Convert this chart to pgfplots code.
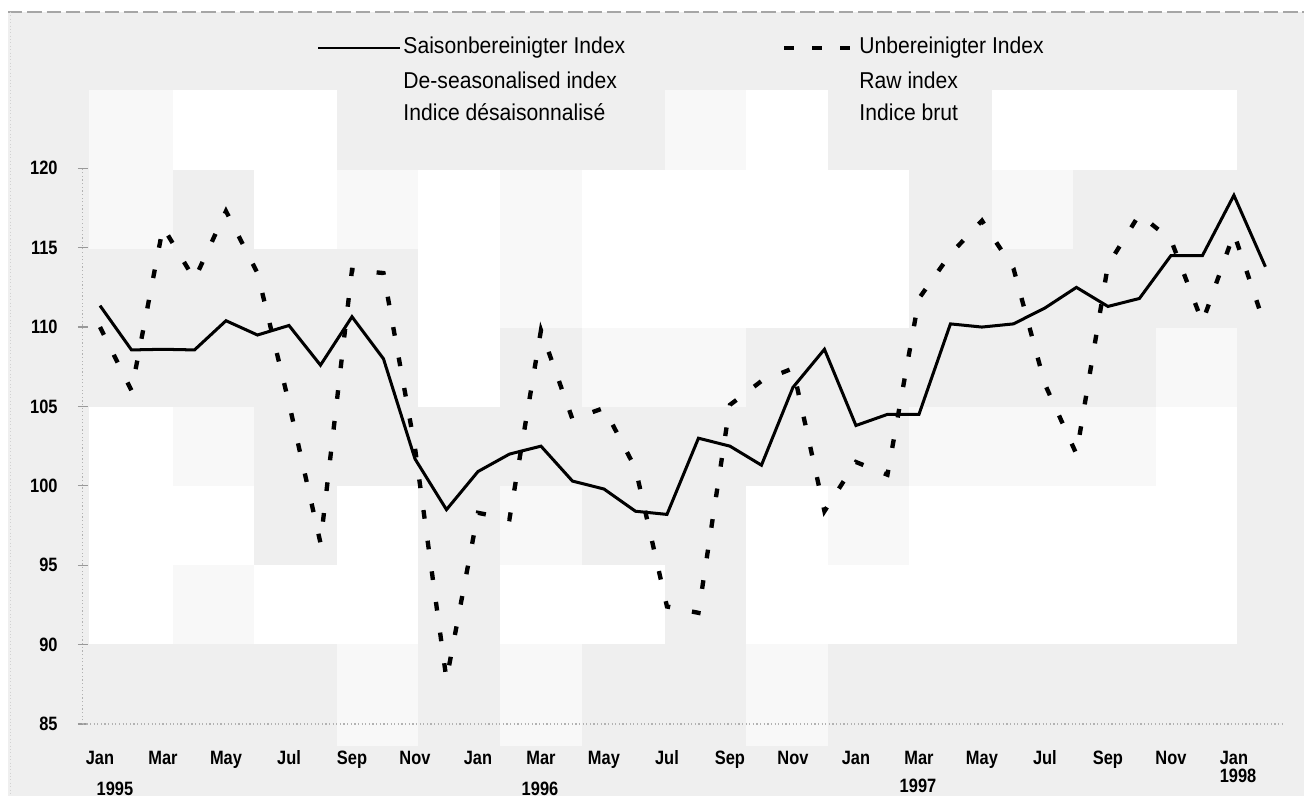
\documentclass[border=0pt]{standalone}
\usepackage{fontspec}
\setmainfont{Liberation Sans}[FakeStretch=0.92]
\newfontfamily\tickfont{Liberation Sans}[FakeStretch=0.85]
\usepackage{pgfplots}
\usepackage{pgfplotstable}
\pgfplotsset{compat=1.18}
\definecolor{bg}{HTML}{EFEFEF}
\definecolor{lt}{HTML}{F8F8F8}

% month index (Jan 1995 = 0), seasonally adjusted index, raw index
\pgfplotstableread{
i  sa      raw
0  111.35  110.0
1  108.56  106.0
2  108.6   116.3
3  108.56  113.0
4  110.4   117.3
5  109.5   113.4
6  110.1   105.2
7  107.6   96.4
8  110.65  113.6
9  108.0   113.4
10 101.7   102.4
11 98.5    87.8
12 100.9   98.3
13 102.0   97.9
14 102.5   109.8
15 100.3   104.2
16 99.8    104.9
17 98.4    101.1
18 98.2    92.4
19 103.0   92.0
20 102.5   105.1
21 101.3   106.6
22 106.2   107.4
23 108.6   98.4
24 103.8   101.5
25 104.5   100.7
26 104.5   111.8
27 110.2   114.6
28 110.0   116.7
29 110.2   113.7
30 111.2   106.4
31 112.5   102.0
32 111.3   113.9
33 111.8   117.1
34 114.5   115.5
35 114.5   110.3
36 118.3   115.9
37 113.8   110.0
}\datatable

\newcommand{\blk}[5]{\fill[#5] (#1,#2) rectangle (#3,#4);}

\begin{document}
\begin{tikzpicture}
\useasboundingbox (0,0) rectangle (540pt,329.63pt);
\begin{scope}[yshift=329.63pt, x=0.41411pt, y=-0.41411pt]
  % page background
  \fill[white] (0,0) rectangle (1304,796);
  \fill[bg] (8,12) rectangle (1304,796);
  % light blocks of the scanned background
  % row 90-170
  \blk{89}{90}{173}{170}{lt}
  \blk{173}{90}{337}{170}{white}
  \blk{665}{90}{746}{170}{lt}
  \blk{746}{90}{828}{170}{white}
  \blk{992}{90}{1237}{170}{white}
  % row 170-249
  \blk{89}{170}{173}{249}{lt}
  \blk{254}{170}{337}{249}{white}
  \blk{337}{170}{418}{249}{lt}
  \blk{418}{170}{500}{249}{white}
  \blk{500}{170}{582}{249}{lt}
  \blk{582}{170}{909}{249}{white}
  \blk{992}{170}{1073}{249}{lt}
  % row 249-328
  \blk{418}{249}{500}{328}{white}
  \blk{500}{249}{582}{328}{lt}
  \blk{582}{249}{909}{328}{white}
  % row 328-407
  \blk{418}{328}{500}{407}{white}
  \blk{582}{328}{746}{407}{lt}
  \blk{1156}{328}{1237}{407}{lt}
  % row 407-486
  \blk{89}{407}{173}{486}{white}
  \blk{173}{407}{254}{486}{lt}
  \blk{909}{407}{1156}{486}{lt}
  \blk{1156}{407}{1237}{486}{white}
  % row 486-565
  \blk{89}{486}{254}{565}{white}
  \blk{337}{486}{418}{565}{white}
  \blk{500}{486}{582}{565}{lt}
  \blk{746}{486}{828}{565}{white}
  \blk{828}{486}{909}{565}{lt}
  \blk{909}{486}{1237}{565}{white}
  % row 565-644
  \blk{89}{565}{173}{644}{white}
  \blk{173}{565}{254}{644}{lt}
  \blk{254}{565}{418}{644}{white}
  \blk{500}{565}{665}{644}{white}
  \blk{746}{565}{1237}{644}{white}
  % row 644-746
  \blk{337}{644}{418}{746}{lt}
  \blk{500}{644}{582}{746}{lt}
  \blk{746}{644}{828}{746}{lt}
  % frame of the scan
  \draw[gray!70, line width=0.6pt, dash pattern=on 6pt off 2pt] (8,12) -- (1304,12);
  \draw[gray!35, line width=0.4pt, densely dotted] (10,12) -- (10,796);
  % legend
  \draw[black, line width=1.2pt] (318,48) -- (400,48);
  \draw[black, line width=1.8pt] (784,48) -- (794,48) (812,48) -- (822,48) (840,48) -- (850,48);
  \begin{scope}[every node/.style={anchor=west, inner sep=0pt, font=\fontsize{9.5}{11}\selectfont}]
    \node at (403,48) {Saisonbereinigter Index};
    \node at (403,80) {De-seasonalised index};
    \node at (403,112) {Indice désaisonnalisé};
    \node at (859,48) {Unbereinigter Index};
    \node at (859,80) {Raw index};
    \node at (859,112) {Indice brut};
  \end{scope}
  % year labels
  \begin{scope}[every node/.style={inner sep=0pt, font=\tickfont\bfseries\fontsize{8}{9}\selectfont}]
    \node at (115,789) {1995};
    \node at (540,789) {1996};
    \node at (918,786) {1997};
    \node at (1238,776) {1998};
  \end{scope}
\end{scope}

\begin{axis}[
  at={(34.24pt,29.82pt)}, anchor=south west,
  scale only axis, width=497.6pt, height=230.12pt,
  xmin=-0.55, xmax=37.6, ymin=85, ymax=120,
  axis x line*=bottom, axis y line*=left,
  axis line style={-, draw=gray!60, densely dotted, line width=0.5pt},
  xtick={0,2,...,36},
  xticklabels={Jan,Mar,May,Jul,Sep,Nov,Jan,Mar,May,Jul,Sep,Nov,Jan,Mar,May,Jul,Sep,Nov,Jan},
  ytick={85,90,...,120},
  major x tick style={draw=none},
  major y tick style={draw=gray!80, line width=0.5pt},
  major tick length=4pt, tick align=center,
  /pgf/number format/assume math mode=true,
  ticklabel style={font=\tickfont\bfseries\fontsize{8}{9}\selectfont},
  yticklabel style={anchor=east, inner sep=0pt, xshift=-8.2pt},
  xticklabel style={anchor=north, inner sep=0pt, yshift=-8.5pt, text height=6pt, text depth=1.5pt},
  clip=false,
]
\addplot[black, line width=1.8pt, dash pattern=on 3.6pt off 9.2pt] table[x=i, y=raw] {\datatable};
\addplot[black, line width=1.25pt] table[x=i, y=sa] {\datatable};
\end{axis}
\end{tikzpicture}
\end{document}
